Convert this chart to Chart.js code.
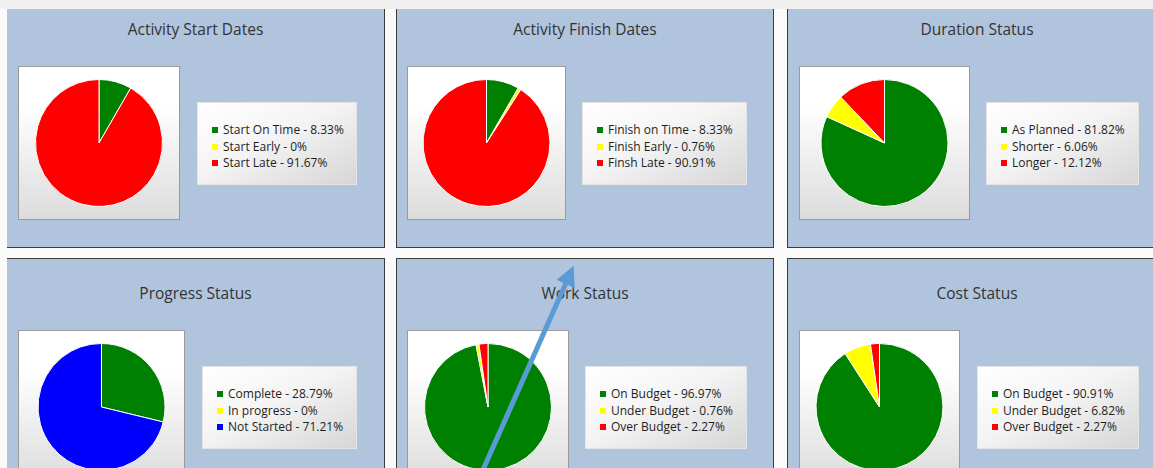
<!DOCTYPE html>
<html>
<head>
<meta charset="utf-8">
<script src="https://cdn.jsdelivr.net/npm/chart.js@4.4.1/dist/chart.umd.min.js"></script>
<style>
  html, body { margin: 0; padding: 0; }
  body { width: 1153px; height: 468px; overflow: hidden; position: relative; background: #fafafa; font-family: "Open Sans", "Noto Sans", sans-serif; }
  .topbar { position: absolute; left: 0; top: 0; width: 1153px; height: 9px; background: #f0f0f0; z-index: 5; }
  .panel { position: absolute; background: #b0c4de; border: 1px solid #3c3c3c; box-sizing: border-box; }
  .panel.first { border-left: none; }
  .title { position: absolute; left: 0; right: 0; top: 23px; text-align: center; font-size: 15.5px; color: #333; }
  .piebox { position: absolute; top: 71px; height: 154px; box-sizing: border-box; border: 1px solid #9a9a9a; background: linear-gradient(to bottom, #ffffff 0%, #ffffff 25%, #dcdcdc 100%); }
  .piebox canvas { position: absolute; left: 0; top: 0; }
  .legend { position: absolute; top: 107px; height: 83px; box-sizing: border-box; border: 1px solid #e4e4e4; background: linear-gradient(to bottom right, #ffffff 0%, #f4f4f4 45%, #d6d6d6 100%); padding: 19px 0 0 14px; font-size: 12px; color: #1e1e1e; }
  .legend div { height: 16.5px; line-height: 16.5px; white-space: nowrap; }
  .legend i { display: inline-block; width: 6px; height: 6px; margin-right: 5px; vertical-align: 1px; }
  svg.arrow { position: absolute; left: 0; top: 0; z-index: 6; }
</style>
</head>
<body>
<div class="topbar"></div>
<div id="wrap"></div>
<svg class="arrow" width="1153" height="468">
  <defs>
    <marker id="head" markerWidth="4" markerHeight="4" refX="2.2" refY="2" orient="auto" markerUnits="strokeWidth">
      <path d="M0,0 L4,2 L0,4 z" fill="#5b9bd5"></path>
    </marker>
  </defs>
  <line x1="482" y1="472" x2="570" y2="274" stroke="#5b9bd5" stroke-width="5" marker-end="url(#head)"></line>
</svg>
<script>
// Titles
const titles = ['Activity Start Dates', 'Activity Finish Dates', 'Duration Status', 'Progress Status', 'Work Status', 'Cost Status'];

// Legend labels
const startLabels = ['Start On Time', 'Start Early', 'Start Late'];
const finishLabels = ['Finish on Time', 'Finish Early', 'Finsh Late'];
const durationLabels = ['As Planned', 'Shorter', 'Longer'];
const progressLabels = ['Complete', 'In progress', 'Not Started'];
const workLabels = ['On Budget', 'Under Budget', 'Over Budget'];
const costLabels = ['On Budget', 'Under Budget', 'Over Budget'];

// Percent values
const startValues = [8.33, 0, 91.67];
const finishValues = [8.33, 0.76, 90.91];
const durationValues = [81.82, 6.06, 12.12];
const progressValues = [28.79, 0, 71.21];
const workValues = [96.97, 0.76, 2.27];
const costValues = [90.91, 6.82, 2.27];

const GREEN = '#008000', YELLOW = '#ffff00', RED = '#ff0000', BLUE = '#0000ff';
const gyr = [GREEN, YELLOW, RED];
const gyb = [GREEN, YELLOW, BLUE];

const charts = [
  { title: titles[0], labels: startLabels, values: startValues, colors: gyr },
  { title: titles[1], labels: finishLabels, values: finishValues, colors: gyr },
  { title: titles[2], labels: durationLabels, values: durationValues, colors: gyr },
  { title: titles[3], labels: progressLabels, values: progressValues, colors: gyb },
  { title: titles[4], labels: workLabels, values: workValues, colors: gyr },
  { title: titles[5], labels: costLabels, values: costValues, colors: gyr }
];

// Layout (page px)
const layout = [
  { x: 7,   y: -6,  w: 378, h: 254, first: true, pieX: 11, pieW: 162, legX: 190, legW: 160 },
  { x: 396, y: -6,  w: 378, h: 254, pieX: 11, pieW: 159, legX: 186, legW: 165 },
  { x: 787, y: -6,  w: 380, h: 254, pieX: 12, pieW: 171, legX: 199, legW: 153 },
  { x: 7,   y: 258, w: 378, h: 240, first: true, pieX: 11, pieW: 167, legX: 195, legW: 155 },
  { x: 396, y: 258, w: 378, h: 240, pieX: 11, pieW: 162, legX: 189, legW: 162 },
  { x: 787, y: 258, w: 380, h: 240, pieX: 12, pieW: 161, legX: 190, legW: 162 }
];

const wrap = document.getElementById('wrap');

charts.forEach((c, i) => {
  const L = layout[i];
  const panel = document.createElement('div');
  panel.className = 'panel' + (L.first ? ' first' : '');
  panel.style.left = L.x + 'px';
  panel.style.top = L.y + 'px';
  panel.style.width = L.w + 'px';
  panel.style.height = L.h + 'px';

  const t = document.createElement('div');
  t.className = 'title';
  t.textContent = c.title;
  panel.appendChild(t);

  const box = document.createElement('div');
  box.className = 'piebox';
  box.style.left = (L.pieX - (L.first ? 0 : 1)) + 'px';
  box.style.width = L.pieW + 'px';
  const cv = document.createElement('canvas');
  cv.width = L.pieW - 2;
  cv.height = 152;
  cv.style.width = (L.pieW - 2) + 'px';
  cv.style.height = '152px';
  box.appendChild(cv);
  panel.appendChild(box);

  const leg = document.createElement('div');
  leg.className = 'legend';
  leg.style.left = (L.legX - (L.first ? 0 : 1)) + 'px';
  leg.style.width = L.legW + 'px';
  leg.innerHTML = c.labels.map((lb, k) =>
    `<div><i style="background:${c.colors[k]}"></i>${lb} - ${c.values[k]}%</div>`).join('');
  panel.appendChild(leg);

  wrap.appendChild(panel);

  new Chart(cv.getContext('2d'), {
    type: 'pie',
    data: {
      labels: c.labels,
      datasets: [{
        data: c.values,
        backgroundColor: c.colors,
        borderColor: '#ffffff',
        borderWidth: 1
      }]
    },
    options: {
      responsive: false,
      animation: false,
      layout: { padding: 12 },
      plugins: { legend: { display: false }, tooltip: { enabled: false } }
    }
  });
});
</script>
</body>
</html>
